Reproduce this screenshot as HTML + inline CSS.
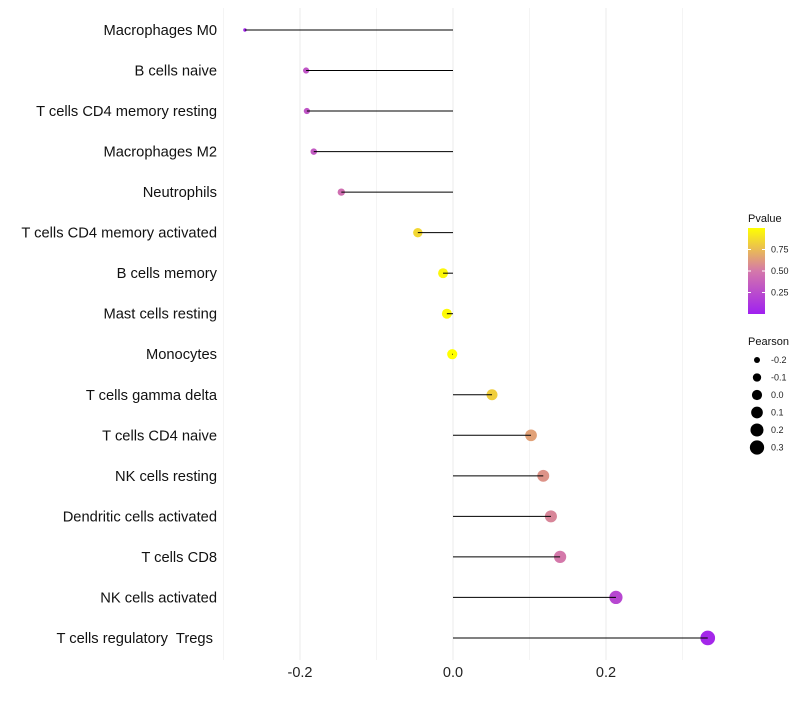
<!DOCTYPE html>
<html><head><meta charset="utf-8"><style>
body{margin:0;background:#fff;font-family:"Liberation Sans",sans-serif;}
text{white-space:pre;}
</style></head><body>
<svg id="chart" width="800" height="700" xmlns="http://www.w3.org/2000/svg" font-family="Liberation Sans, sans-serif"></svg>
<script>
const categories=["Macrophages M0","B cells naive","T cells CD4 memory resting","Macrophages M2","Neutrophils","T cells CD4 memory activated","B cells memory","Mast cells resting","Monocytes","T cells gamma delta","T cells CD4 naive","NK cells resting","Dendritic cells activated","T cells CD8","NK cells activated","T cells regulatory  Tregs "];
const pearson=[-0.272,-0.192,-0.191,-0.182,-0.146,-0.046,-0.013,-0.008,-0.001,0.051,0.102,0.118,0.128,0.140,0.213,0.333];
const pvalue=[0.03,0.30,0.30,0.33,0.45,0.85,0.97,0.98,1.0,0.82,0.65,0.60,0.55,0.50,0.22,0.04];
const xTicks=[-0.2,0.0,0.2];
const xTickLabels=["-0.2","0.0","0.2"];
const xMinor=[-0.3,-0.1,0.1,0.3];
const pTicks=[0.25,0.5,0.75];
const pTickLabels=["0.25","0.50","0.75"];
const sizeTicks=[-0.2,-0.1,0.0,0.1,0.2,0.3];
const sizeTickLabels=["-0.2","-0.1","0.0","0.1","0.2","0.3"];

const svg=document.getElementById('chart');
const NS="http://www.w3.org/2000/svg";
function mk(t,a,p){const e=document.createElementNS(NS,t);for(const k in a)e.setAttribute(k,a[k]);(p||svg).appendChild(e);return e;}
const x=v=>453+v*765;
const y=i=>30+i*40.53;
const r=v=>Math.sqrt(Math.max(2,9+(v+0.2)*84));
function col(p){
  const stops=[[0,[160,32,240]],[0.5,[212,120,170]],[1,[255,255,0]]];
  let a=stops[0],b=stops[1];if(p>0.5){a=stops[1];b=stops[2];}
  const t=(p-a[0])/(b[0]-a[0]);
  const c=a[1].map((v,k)=>Math.round(v+(b[1][k]-v)*t));
  return `rgb(${c[0]},${c[1]},${c[2]})`;
}
const grid=mk('g',{});


xMinor.forEach(v=>{const l=mk('line',{x1:x(v),x2:x(v),y1:8,y2:660,stroke:'#f4f4f4','stroke-width':1},grid);
});
xTicks.forEach((v,i)=>{const l=mk('line',{x1:x(v),x2:x(v),y1:8,y2:660,stroke:'#ebebeb','stroke-width':1},grid);

const t=mk('text',{x:x(v),y:677,'text-anchor':'middle','font-size':14.5,fill:'#222'});t.textContent=xTickLabels[i];
});
categories.forEach((c,i)=>{
  const t=mk('text',{x:217,y:y(i)+5,'text-anchor':'end','font-size':14.7,fill:'#111','xml:space':'preserve'});t.textContent=c;
  
  const d=mk('circle',{cx:x(pearson[i]),cy:y(i),r:r(pearson[i]),fill:col(pvalue[i])});
  
  const l=mk('line',{x1:x(0),x2:x(pearson[i]),y1:y(i),y2:y(i),stroke:'#000','stroke-width':1});
  
});
const lg=mk('g',{});


const tt=mk('text',{x:748,y:222,'font-size':11,fill:'#111'},lg);tt.textContent='Pvalue';
const defs=mk('defs',{});
const gr=mk('linearGradient',{id:'pg',x1:0,y1:1,x2:0,y2:0},defs);
for(let k=0;k<=10;k++){mk('stop',{offset:k/10,'stop-color':col(k/10)},gr);}
const bar=mk('rect',{x:748,y:228,width:17,height:86,fill:'url(#pg)'},lg);

const py=p=>314-p*86;
pTicks.forEach((p,i)=>{
  mk('line',{x1:748,x2:751,y1:py(p),y2:py(p),stroke:'#fff'},lg);
  mk('line',{x1:762,x2:765,y1:py(p),y2:py(p),stroke:'#fff'},lg);
  const t=mk('text',{x:771,y:py(p)+3,'font-size':9,fill:'#222'},lg);t.textContent=pTickLabels[i];
  
});
const sg=mk('g',{});


const st=mk('text',{x:748,y:345,'font-size':11,fill:'#111'},sg);st.textContent='Pearson';
sizeTicks.forEach((v,i)=>{
  const cy=360+i*17.5;
  const c=mk('circle',{cx:757,cy:cy,r:r(v),fill:'#000'},sg);
  
  const t=mk('text',{x:771,y:cy+3,'font-size':9,fill:'#222'},sg);t.textContent=sizeTickLabels[i];
});
</script>
</body></html>
